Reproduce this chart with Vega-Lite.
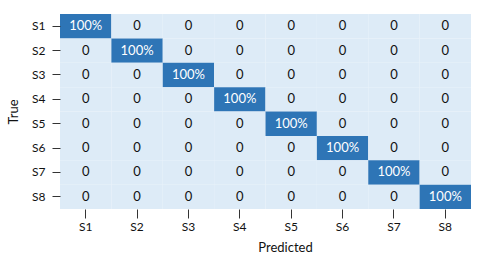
{
  "$schema": "https://vega.github.io/schema/vega-lite/v6.json",
  "width": 411,
  "height": 195,
  "autosize": {"type": "none"},
  "padding": {"left": 60, "top": 14, "right": 9, "bottom": 52},
  "background": "white",
  "config": {"view": {"stroke": null}, "font": "Lato"},
  "data": {"values": [
    {"t":"S1","p":"S1","v":100,"label":"100%"},{"t":"S1","p":"S2","v":0,"label":"0"},{"t":"S1","p":"S3","v":0,"label":"0"},{"t":"S1","p":"S4","v":0,"label":"0"},{"t":"S1","p":"S5","v":0,"label":"0"},{"t":"S1","p":"S6","v":0,"label":"0"},{"t":"S1","p":"S7","v":0,"label":"0"},{"t":"S1","p":"S8","v":0,"label":"0"},
    {"t":"S2","p":"S1","v":0,"label":"0"},{"t":"S2","p":"S2","v":100,"label":"100%"},{"t":"S2","p":"S3","v":0,"label":"0"},{"t":"S2","p":"S4","v":0,"label":"0"},{"t":"S2","p":"S5","v":0,"label":"0"},{"t":"S2","p":"S6","v":0,"label":"0"},{"t":"S2","p":"S7","v":0,"label":"0"},{"t":"S2","p":"S8","v":0,"label":"0"},
    {"t":"S3","p":"S1","v":0,"label":"0"},{"t":"S3","p":"S2","v":0,"label":"0"},{"t":"S3","p":"S3","v":100,"label":"100%"},{"t":"S3","p":"S4","v":0,"label":"0"},{"t":"S3","p":"S5","v":0,"label":"0"},{"t":"S3","p":"S6","v":0,"label":"0"},{"t":"S3","p":"S7","v":0,"label":"0"},{"t":"S3","p":"S8","v":0,"label":"0"},
    {"t":"S4","p":"S1","v":0,"label":"0"},{"t":"S4","p":"S2","v":0,"label":"0"},{"t":"S4","p":"S3","v":0,"label":"0"},{"t":"S4","p":"S4","v":100,"label":"100%"},{"t":"S4","p":"S5","v":0,"label":"0"},{"t":"S4","p":"S6","v":0,"label":"0"},{"t":"S4","p":"S7","v":0,"label":"0"},{"t":"S4","p":"S8","v":0,"label":"0"},
    {"t":"S5","p":"S1","v":0,"label":"0"},{"t":"S5","p":"S2","v":0,"label":"0"},{"t":"S5","p":"S3","v":0,"label":"0"},{"t":"S5","p":"S4","v":0,"label":"0"},{"t":"S5","p":"S5","v":100,"label":"100%"},{"t":"S5","p":"S6","v":0,"label":"0"},{"t":"S5","p":"S7","v":0,"label":"0"},{"t":"S5","p":"S8","v":0,"label":"0"},
    {"t":"S6","p":"S1","v":0,"label":"0"},{"t":"S6","p":"S2","v":0,"label":"0"},{"t":"S6","p":"S3","v":0,"label":"0"},{"t":"S6","p":"S4","v":0,"label":"0"},{"t":"S6","p":"S5","v":0,"label":"0"},{"t":"S6","p":"S6","v":100,"label":"100%"},{"t":"S6","p":"S7","v":0,"label":"0"},{"t":"S6","p":"S8","v":0,"label":"0"},
    {"t":"S7","p":"S1","v":0,"label":"0"},{"t":"S7","p":"S2","v":0,"label":"0"},{"t":"S7","p":"S3","v":0,"label":"0"},{"t":"S7","p":"S4","v":0,"label":"0"},{"t":"S7","p":"S5","v":0,"label":"0"},{"t":"S7","p":"S6","v":0,"label":"0"},{"t":"S7","p":"S7","v":100,"label":"100%"},{"t":"S7","p":"S8","v":0,"label":"0"},
    {"t":"S8","p":"S1","v":0,"label":"0"},{"t":"S8","p":"S2","v":0,"label":"0"},{"t":"S8","p":"S3","v":0,"label":"0"},{"t":"S8","p":"S4","v":0,"label":"0"},{"t":"S8","p":"S5","v":0,"label":"0"},{"t":"S8","p":"S6","v":0,"label":"0"},{"t":"S8","p":"S7","v":0,"label":"0"},{"t":"S8","p":"S8","v":100,"label":"100%"}
  ]},
  "encoding": {
    "x": {"field": "p", "type": "ordinal", "sort": ["S1","S2","S3","S4","S5","S6","S7","S8"],
      "scale": {"paddingInner": 0, "paddingOuter": 0},
      "axis": {"title": "Predicted", "labelAngle": 0, "domain": false, "tickSize": 9, "tickColor": "#333", "labelPadding": 3, "labelFontSize": 12, "labelColor": "#111", "titleFontSize": 13, "titleFontWeight": "normal", "titleColor": "#111", "titlePadding": 9, "titleX": 225}},
    "y": {"field": "t", "type": "ordinal", "sort": ["S1","S2","S3","S4","S5","S6","S7","S8"],
      "scale": {"paddingInner": 0, "paddingOuter": 0},
      "axis": {"title": "True", "domain": false, "tickSize": 8, "tickColor": "#333", "labelPadding": 7, "labelFontSize": 12, "labelColor": "#111", "titleFontSize": 13, "titleFontWeight": "normal", "titleColor": "#111", "titlePadding": 11}}
  },
  "layer": [
    {"mark": {"type": "rect"},
     "encoding": {"color": {"field": "v", "type": "quantitative", "scale": {"domain": [0, 100], "range": ["#DDEBF7", "#2E75B6"]}, "legend": null}}},
    {"mark": {"type": "text", "fontSize": 13, "font": "Lato"},
     "encoding": {"text": {"field": "label"},
       "color": {"condition": {"test": "datum.v > 50", "value": "white"}, "value": "#111"}}}
  ]
}
